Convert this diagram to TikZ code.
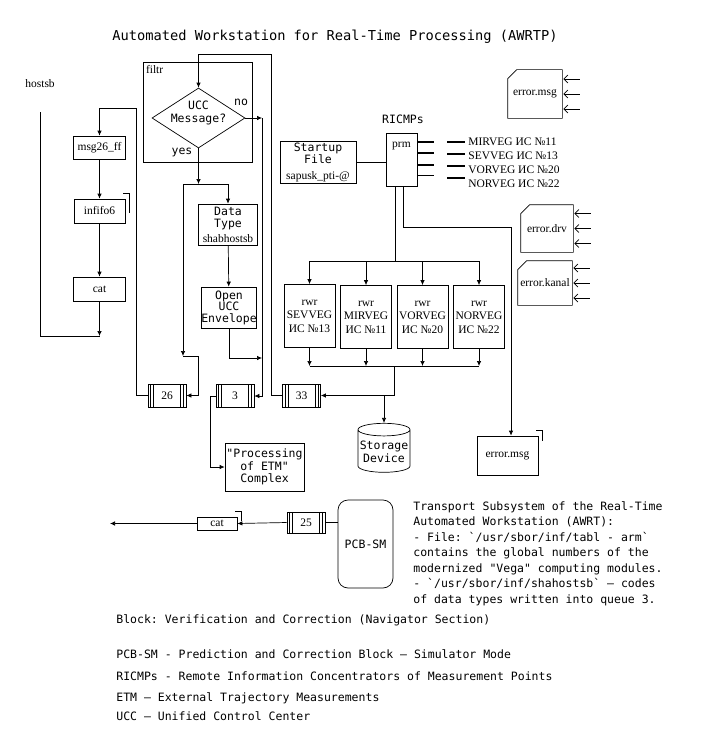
\documentclass[tikz,border=0pt]{standalone}
\usepackage{fontspec}
\setmainfont{Liberation Serif}
\setmonofont{DejaVu Sans Mono}
\usetikzlibrary{arrows.meta,positioning,shapes.geometric,calc}

\newcommand{\fifomark}[2]{\draw ([xshift=-2pt,yshift=5pt]#1.north east) -| ([xshift=4pt,yshift=-#2pt]#1.north east);}

\begin{document}
\begin{tikzpicture}[x=1pt,y=-1pt,>={Latex[length=5pt,width=4.5pt]},line width=0.7pt,
    every node/.style={font=\fontsize{11.5}{13}\selectfont}]
    \tikzstyle{b}=[rectangle,draw,align=center,inner sep=1pt]
    \tikzstyle{tt}=[font=\ttfamily\fontsize{11.5}{12.5}\selectfont]
    \tikzstyle{rwrbox}=[b,minimum width=51pt,minimum height=63pt,font=\fontsize{11.5}{13.5}\selectfont]
    \tikzstyle{errfile}=[align=center,inner sep=0pt]
    \tikzstyle{barb}=[{Straight Barb[length=4pt,width=8pt]}-]
    \tikzstyle{queue}=[b,minimum width=38pt,minimum height=23pt,path picture={
      \foreach \d in {2.5pt,5.5pt} {
        \draw ([xshift=\d]path picture bounding box.north west) -- ([xshift=\d]path picture bounding box.south west);
        \draw ([xshift=-\d]path picture bounding box.north east) -- ([xshift=-\d]path picture bounding box.south east);
      }}]
    \useasboundingbox (0,0) rectangle (709,752);

    \node[font=\ttfamily\fontsize{13.7}{16}\selectfont] (title) at (335,37) {Automated Workstation for Real-Time Processing (AWRTP)};

    % left column
    \node[anchor=west,inner sep=0pt] (hostsb) at (25,84) {hostsb};
    \node[b,minimum width=52pt,minimum height=23pt] (msg) at (99.5,147.5) {msg26\_ff};
    \node[b,minimum width=51pt,minimum height=24pt] (infifo) at (99.5,211) {infifo6};
    \node[b,minimum width=52pt,minimum height=24pt] (cat1) at (99.5,289) {cat};
    \fifomark{infifo}{14}
    \coordinate (hin) at (40,112);
    \coordinate (hout) at (99.5,336);
    \draw (hin) |- (hout);
    \draw[->] (msg) -- (infifo);
    \draw[->] (infifo) -- (cat1);
    \draw[->] (cat1) -- (hout);

    % filtr
    \node[draw,minimum width=109pt,minimum height=100pt,label={[anchor=north west,inner sep=3pt]north west:filtr}] (filtr) at (197.5,112) {};
    \node[draw,diamond,minimum width=93pt,minimum height=60pt,inner sep=0pt,
      label={[tt,align=center,yshift=5pt]center:UCC\\Message?}] (ucc) at (198.5,118) {};
    \node[tt] (lno) at (241,102) {no};
    \node[tt] (lyes) at (182,152) {yes};
    \node[b,tt,minimum width=59pt,minimum height=41pt] (dtype) at (228,224.5) {Data\\Type\\[2pt]\rmfamily shabhostsb};
    \node[b,tt,minimum width=54pt,minimum height=41pt,inner sep=0pt,font=\ttfamily\fontsize{11.5}{11.5}\selectfont] (open) at (229,307.5) {Open\\UCC\\Envelope};

    % queues
    \node[queue] (q26) at (167,395.5) {26};
    \node[queue] (q3) at (235,396) {3};
    \node[queue] (q33) at (301.5,395.5) {33};
    \node[b,tt,minimum width=79pt,minimum height=48pt] (proc) at (264.5,467) {"Processing\\of ETM"\\Complex};

    \coordinate (c26) at (136,108);
    \coordinate (ctop) at (271,54);
    \coordinate (cno) at (262,118);
    \coordinate (cyes) at (198.5,184);
    \coordinate (cleft) at (183,356);
    \coordinate (c26r) at (198,395.5);
    \draw[->] (q26.west) -| (c26) -| (msg.north);
    \draw[->] (q33.west) -| (ctop) -| (ucc.north);
    \draw[->] (ucc.east) -- (cno);
    \draw[->] (cno) |- (q3.east);
    \draw[->] (ucc.south) -- (cyes);
    \draw[->] (cyes) -| (dtype.north);
    \draw[->] (cyes) -| (cleft);
    \draw[->] (cleft) -| (c26r) -- (q26.east);
    \draw[->] (dtype) -- (open);
    \draw[->] (open.south) |- (cno |- 0,358);
    \draw[->] (q3.west) -- ++(-5,0) |- (proc.west);

    % RICMPs
    \node[tt] (ricmp) at (403,119) {RICMPs};
    \node[b,minimum width=31pt,minimum height=53pt,label={[anchor=north,yshift=-6pt]north:prm}] (prm) at (401.5,159.5) {};
    \node[b,tt,minimum width=76pt,minimum height=42pt] (start) at (318,162) {Startup\\File\\[3pt]\rmfamily sapusk\_pti-@};
    \draw (start.east) -- (start.east -| prm.west);
    \foreach \dy/\w in {9/1.8pt,20/1.8pt,32/1.8pt,43/0.7pt}
      \draw[line width=\w] ([yshift=-\dy pt]prm.north east) -- ++(17,0);
    \foreach \y/\ly/\t [count=\i] in {142/142/{MIRVEG ИС №11},154/156/{SEVVEG ИС №13},166/170/{VORVEG ИС №20},178/184/{NORVEG ИС №22}} {
      \draw[line width=1.8pt] (447,\y) -- (465,\y);
      \node[anchor=west,inner sep=0pt] (v\i) at (468,\ly) {\t};
    }

    \node[rwrbox] (r1) at (309.5,316) {rwr\\SEVVEG\\ИС №13};
    \node[rwrbox] (r2) at (366,317) {rwr\\MIRVEG\\ИС №11};
    \node[rwrbox] (r3) at (422.5,317) {rwr\\VORVEG\\ИС №20};
    \node[rwrbox] (r4) at (479,317) {rwr\\NORVEG\\ИС №22};
    \coordinate (dist) at (395,261);
    \coordinate (mrg) at (394,366);
    \draw (prm.south -| dist) -- (dist);
    \draw (r1.north |- dist) -- (r4.north |- dist);
    \draw (r1.south |- mrg) -- (r4.south |- mrg);
    \foreach \r in {r1,r2,r3,r4} {
      \draw[->] (\r.north |- dist) -- (\r.north);
      \draw[->] (\r.south) -- (\r.south |- mrg);
    }
    \node[draw,cylinder,shape border rotate=90,aspect=0.25,minimum width=52pt,minimum height=49pt,tt,align=center,inner sep=1pt] (store) at (384,452) {Storage\\Device};
    \draw[->] (mrg) |- (q33.east);
    \draw[->] (q33.east -| store.north) -- (store.north);

    % error files
    \node[errfile,minimum width=54pt,minimum height=48pt] (emsg) at (535,94) {error.msg};
    \node[errfile,minimum width=52pt,minimum height=47pt] (edrv) at (547,228.5) {error.drv};
    \node[errfile,minimum width=54pt,minimum height=44pt] (ekan) at (545,283) {error.kanal};
    \foreach \n in {emsg,edrv,ekan} {
      \draw ([xshift=9pt]\n.north west) -- (\n.north east) -- (\n.south east) -- (\n.south west) -- ([yshift=-9pt]\n.north west) -- cycle;
      \foreach \dy in {-15,0,15}
        \draw[barb] ([xshift=1pt,yshift=\dy pt]\n.east) -- ++(17,0);
    }
    \node[b,minimum width=61pt,minimum height=39pt] (errb) at (507.5,455.5) {error.msg};
    \fifomark{errb}{5}
    \coordinate (eturn) at (511,227);
    \draw[->] ([xshift=1.5pt]prm.south) |- (eturn) -- ([xshift=3.5pt]errb.north);

    % bottom chain
    \node[b,tt,rounded corners=10pt,minimum width=55pt,minimum height=88pt] (pcb) at (365.5,544) {PCB-SM};
    \node[queue,minimum height=21pt] (q25) at (306,522.5) {25};
    \node[b,minimum width=40pt,minimum height=13pt,inner sep=0pt] (cat2) at (217,523.5) {cat};
    \fifomark{cat2}{4}
    \coordinate (out) at (110,523.5);
    \draw (q25.east) -- (q25.east -| pcb.west);
    \draw[->] (q25.west) -- (cat2.east);
    \draw[->] (cat2.west) -- (out);

    % notes
    \node[anchor=north west,align=left,inner sep=0pt,font=\ttfamily\fontsize{11.5}{15.5}\selectfont] (note) at (413,501)
      {Transport Subsystem of the Real-Time\\Automated Workstation (AWRT):\\- File: `/usr/sbor/inf/tabl - arm`\\contains the global numbers of the\\modernized "Vega" computing modules.\\- `/usr/sbor/inf/shahostsb` – codes\\of data types written into queue 3.};
    \node[tt,anchor=base west,inner sep=0pt] (lg1) at (116,623) {Block: Verification and Correction (Navigator Section)};
    \node[tt,anchor=base west,inner sep=0pt] (lg2) at (116,658) {PCB-SM - Prediction and Correction Block – Simulator Mode};
    \node[tt,anchor=base west,inner sep=0pt] (lg3) at (116,680) {RICMPs - Remote Information Concentrators of Measurement Points};
    \node[tt,anchor=base west,inner sep=0pt] (lg4) at (116,701) {ETM – External Trajectory Measurements};
    \node[tt,anchor=base west,inner sep=0pt] (lg5) at (116,720) {UCC – Unified Control Center};
\end{tikzpicture}
\end{document}
